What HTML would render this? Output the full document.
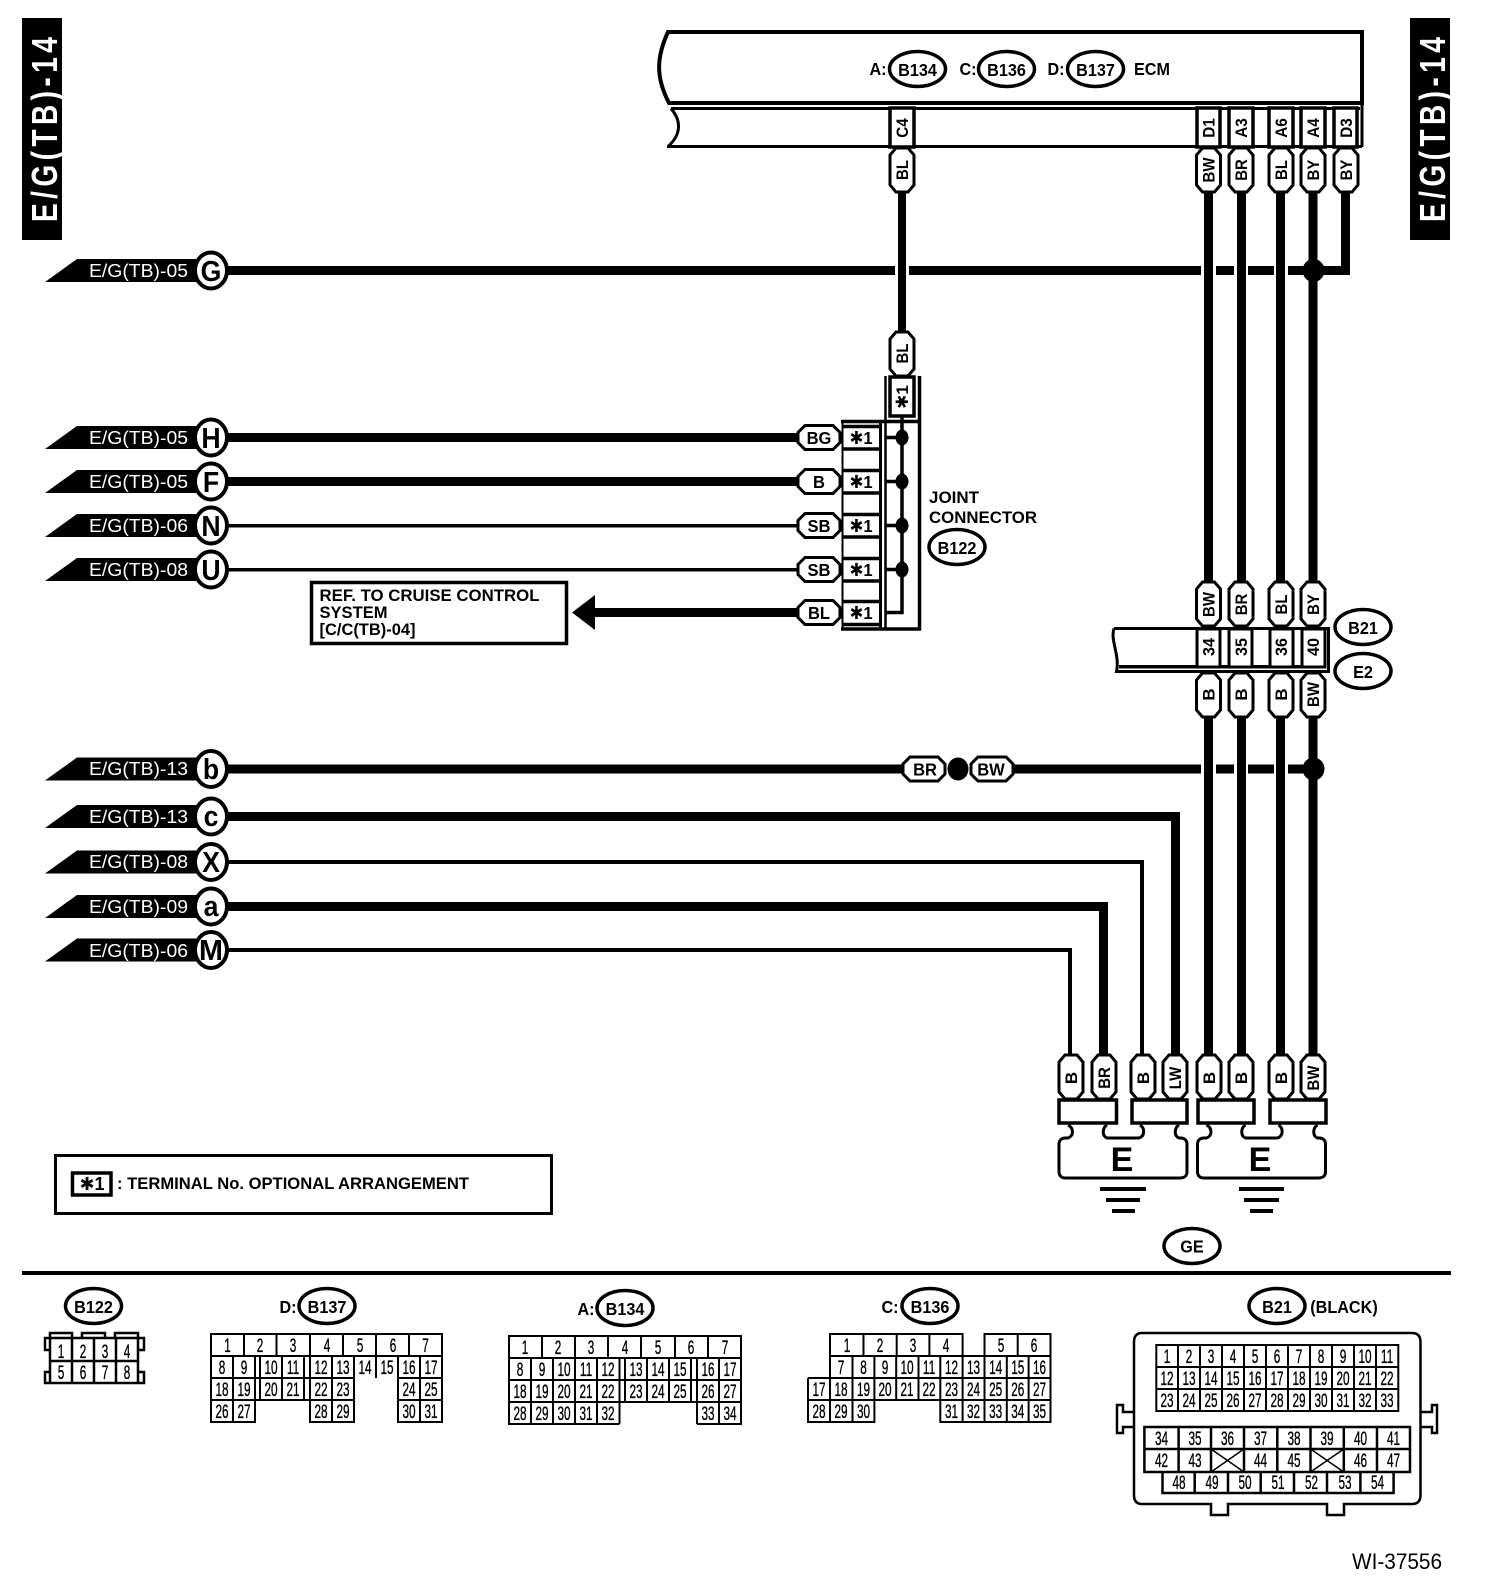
<!DOCTYPE html>
<html><head><meta charset="utf-8"><style>
html,body{margin:0;padding:0;background:#fff}
svg{display:block}
text{font-family:"Liberation Sans","DejaVu Sans",sans-serif;fill:#000}
.n text{font-size:19px;text-anchor:middle;stroke:#000;stroke-width:.35px;transform:scaleX(.62);transform-box:fill-box;transform-origin:center}
.e text{font-size:18px;font-weight:bold;text-anchor:middle;transform:scaleX(.9);transform-box:fill-box;transform-origin:center}
.v text{font-size:17px;font-weight:bold;text-anchor:middle}
.h text{font-size:18px;font-weight:bold;text-anchor:middle;transform:scaleX(.92);transform-box:fill-box;transform-origin:center}
.t text{font-size:18.5px;fill:#fff}
.c text{font-size:29px;font-weight:bold;text-anchor:middle;transform:scaleX(.92);transform-box:fill-box;transform-origin:center}
.b text{font-size:17px;font-weight:bold}
.l{fill:none;stroke:#000}
</style></head><body>
<svg xmlns="http://www.w3.org/2000/svg" width="1504" height="1596" viewBox="0 0 1504 1596">
<defs>
<path id="vp" d="M-6 0H6L12 7V37L6 44H-6L-12 37V7Z" fill="#fff" stroke="#000" stroke-width="3"/>
<path id="hp" d="M8 -12H36L43 -5V5L36 12H8L1 5V-5Z" fill="#fff" stroke="#000" stroke-width="3"/>
<path id="tg" d="M45 11.5L77 -11.5H200V11.5Z" fill="#000"/>
<ellipse id="ci" cx="211" cy="0" rx="16" ry="18" fill="#fff" stroke="#000" stroke-width="4"/>
<ellipse id="el" cx="0" cy="0" rx="28" ry="17.5" fill="#fff" stroke="#000" stroke-width="3.5"/>
</defs>
<rect width="1504" height="1596" fill="#fff"/>

<!-- side tabs -->
<rect x="22" y="18" width="40" height="222" fill="#000"/>
<rect x="1410" y="18" width="40" height="222" fill="#000"/>
<text transform="translate(57 222) rotate(-90) scale(.78 1)" font-size="36" font-weight="bold" textLength="237" style="fill:#fff">E/G(TB)-14</text>
<text transform="translate(1445 222) rotate(-90) scale(.78 1)" font-size="36" font-weight="bold" textLength="237" style="fill:#fff">E/G(TB)-14</text>

<!-- wires -->
<g fill="#000">
<rect x="226" y="266" width="669" height="9"/><rect x="909" y="266" width="292" height="9"/><rect x="1216" y="266" width="18" height="9"/><rect x="1248" y="266" width="26" height="9"/><rect x="1288" y="266" width="62" height="9"/>
<rect x="1341" y="190" width="9" height="85"/>
<rect x="898" y="190" width="8" height="144"/>
<rect x="1204" y="190" width="9" height="394"/><rect x="1237" y="190" width="9" height="394"/><rect x="1276" y="190" width="9" height="394"/><rect x="1308.5" y="190" width="9" height="394"/>
<rect x="1204" y="714" width="9" height="343"/><rect x="1237" y="714" width="9" height="343"/><rect x="1276" y="714" width="9" height="343"/><rect x="1308.5" y="714" width="9" height="343"/>
<ellipse cx="1313.5" cy="270.5" rx="11" ry="11.5"/>
<rect x="226" y="433" width="574" height="9"/><rect x="226" y="477" width="574" height="9"/>
<rect x="226" y="524" width="574" height="3.5"/><rect x="226" y="568" width="574" height="3.5"/>
<rect x="590" y="608" width="210" height="9"/>
<path d="M572 612.5L595 595V630Z"/>
<rect x="226" y="764.5" width="678" height="9"/><rect x="1012" y="764.5" width="189" height="9"/><rect x="1216" y="764.5" width="18" height="9"/><rect x="1248" y="764.5" width="26" height="9"/><rect x="1288" y="764.5" width="26" height="9"/>
<ellipse cx="1313.5" cy="769" rx="11" ry="11.5"/>
<ellipse cx="958" cy="769" rx="10.5" ry="11.5"/>
<path d="M226 812H1180V1057H1171V821H226Z"/>
<path d="M226 860H1144V1057H1140V864H226Z"/>
<path d="M226 902H1108V1057H1099V911H226Z"/>
<path d="M226 948H1072V1057H1068V952H226Z"/>
</g>

<!-- tags -->
<use href="#tg" y="270.5"/><use href="#tg" y="437.5"/><use href="#tg" y="481.5"/><use href="#tg" y="525.5"/><use href="#tg" y="569.5"/><use href="#tg" y="769"/><use href="#tg" y="816.5"/><use href="#tg" y="862"/><use href="#tg" y="906.5"/><use href="#tg" y="950"/>
<g class="t">
<text x="89" y="277" textLength="99" lengthAdjust="spacingAndGlyphs">E/G(TB)-05</text>
<text x="89" y="444" textLength="99" lengthAdjust="spacingAndGlyphs">E/G(TB)-05</text>
<text x="89" y="488" textLength="99" lengthAdjust="spacingAndGlyphs">E/G(TB)-05</text>
<text x="89" y="532" textLength="99" lengthAdjust="spacingAndGlyphs">E/G(TB)-06</text>
<text x="89" y="576" textLength="99" lengthAdjust="spacingAndGlyphs">E/G(TB)-08</text>
<text x="89" y="775" textLength="99" lengthAdjust="spacingAndGlyphs">E/G(TB)-13</text>
<text x="89" y="823" textLength="99" lengthAdjust="spacingAndGlyphs">E/G(TB)-13</text>
<text x="89" y="868" textLength="99" lengthAdjust="spacingAndGlyphs">E/G(TB)-08</text>
<text x="89" y="913" textLength="99" lengthAdjust="spacingAndGlyphs">E/G(TB)-09</text>
<text x="89" y="957" textLength="99" lengthAdjust="spacingAndGlyphs">E/G(TB)-06</text>
</g>
<use href="#ci" y="270.5"/><use href="#ci" y="437.5"/><use href="#ci" y="481.5"/><use href="#ci" y="525.5"/><use href="#ci" y="569.5"/><use href="#ci" y="769"/><use href="#ci" y="816.5"/><use href="#ci" y="862"/><use href="#ci" y="906.5"/><use href="#ci" y="950"/>
<g class="c">
<text x="211" y="281">G</text><text x="211" y="448">H</text><text x="211" y="492">F</text><text x="211" y="536">N</text><text x="211" y="580">U</text><text x="211" y="779">b</text><text x="211" y="826">c</text><text x="211" y="872">X</text><text x="211" y="916">a</text><text x="211" y="960" textLength="26" lengthAdjust="spacingAndGlyphs">M</text>
</g>

<!-- ECM -->
<path class="l" stroke-width="4" d="M668 32H1362V103H669C656 78 656 58 668 32Z"/>
<path class="l" stroke-width="3" d="M671 108.5H1360M1362 105V147M667 146.5H1362M671 108.5C681 120 682 134 668 146.5"/>
<g fill="#fff" stroke="#000" stroke-width="3.5">
<rect x="890" y="108" width="24" height="39"/><rect x="1197" y="108" width="23" height="39"/><rect x="1229" y="108" width="24" height="39"/><rect x="1269" y="108" width="24" height="39"/><rect x="1301" y="108" width="24" height="39"/><rect x="1334" y="108" width="23" height="39"/>
</g>
<g class="v">
<text transform="translate(908 128) rotate(-90) scale(.9 1)">C4</text>
<text transform="translate(1214.5 128) rotate(-90) scale(.9 1)">D1</text>
<text transform="translate(1247 128) rotate(-90) scale(.9 1)">A3</text>
<text transform="translate(1287 128) rotate(-90) scale(.9 1)">A6</text>
<text transform="translate(1319 128) rotate(-90) scale(.9 1)">A4</text>
<text transform="translate(1352 128) rotate(-90) scale(.9 1)">D3</text>
</g>
<use href="#vp" x="902" y="148"/><use href="#vp" x="1208.5" y="148"/><use href="#vp" x="1241" y="148"/><use href="#vp" x="1281" y="148"/><use href="#vp" x="1313" y="148"/><use href="#vp" x="1346" y="148"/>
<g class="v">
<text transform="translate(908 170) rotate(-90) scale(.88 1)">BL</text>
<text transform="translate(1214.5 170) rotate(-90) scale(.88 1)">BW</text>
<text transform="translate(1247 170) rotate(-90) scale(.88 1)">BR</text>
<text transform="translate(1287 170) rotate(-90) scale(.88 1)">BL</text>
<text transform="translate(1319 170) rotate(-90) scale(.88 1)">BY</text>
<text transform="translate(1352 170) rotate(-90) scale(.88 1)">BY</text>
</g>
<use href="#el" x="917.5" y="69"/><use href="#el" x="1006.5" y="69"/><use href="#el" x="1095.5" y="69"/>
<g class="e">
<text x="917.5" y="76">B134</text><text x="1006.5" y="76">B136</text><text x="1095.5" y="76">B137</text>
<text x="878" y="75">A:</text><text x="968" y="75">C:</text><text x="1056" y="75">D:</text><text x="1152" y="75">ECM</text>
</g>

<!-- joint connector -->
<use href="#vp" x="902" y="332"/>
<text transform="translate(908 353.5) rotate(-90) scale(.88 1)" font-size="17" font-weight="bold" text-anchor="middle">BL</text>
<path class="l" stroke-width="2.5" d="M885.5 376V628"/>
<path class="l" stroke-width="3.5" d="M919.5 376V630M841 421.5H921M841 629H921"/>
<path class="l" stroke-width="2" d="M842.5 423V628"/>
<path class="l" stroke-width="3" d="M880.5 423V628"/>
<rect x="890" y="377" width="24" height="39" fill="#fff" stroke="#000" stroke-width="3.5"/>
<text transform="translate(908 397) rotate(-90)" font-size="17" font-weight="bold" text-anchor="middle">✱1</text>
<path class="l" stroke-width="3.5" d="M902 417V612.5H885M885 437.5H902M885 481.5H902M885 525.5H902M885 569.5H902"/>
<g fill="#000"><ellipse cx="902" cy="437.5" rx="6.5" ry="8"/><ellipse cx="902" cy="481.5" rx="6.5" ry="8"/><ellipse cx="902" cy="525.5" rx="6.5" ry="8"/><ellipse cx="902" cy="569.5" rx="6.5" ry="8"/></g>
<path class="l" stroke-width="3.5" d="M843 426.5H880M843 449H880M843 470.5H880M843 493H880M843 514.5H880M843 537H880M843 558.5H880M843 581H880M843 601.5H880M843 624.5H880"/>
<use href="#hp" x="797" y="437.5"/><use href="#hp" x="797" y="481.5"/><use href="#hp" x="797" y="525.5"/><use href="#hp" x="797" y="569.5"/><use href="#hp" x="797" y="612.5"/>
<g class="h">
<text x="819" y="444">BG</text><text x="819" y="488">B</text><text x="819" y="532">SB</text><text x="819" y="576">SB</text><text x="819" y="619">BL</text>
<text x="861" y="444">✱1</text><text x="861" y="488">✱1</text><text x="861" y="532">✱1</text><text x="861" y="576">✱1</text><text x="861" y="619">✱1</text>
</g>
<text x="929" y="503" font-size="17" font-weight="bold" textLength="50" lengthAdjust="spacingAndGlyphs">JOINT</text>
<text x="929" y="523" font-size="17" font-weight="bold" textLength="108" lengthAdjust="spacingAndGlyphs">CONNECTOR</text>
<use href="#el" x="957" y="547"/>
<g class="e"><text x="957" y="554">B122</text></g>

<!-- ref box -->
<rect x="311.5" y="582.5" width="255" height="61" fill="#fff" stroke="#000" stroke-width="3.5"/>
<g class="b">
<text x="319.5" y="601" textLength="220" lengthAdjust="spacingAndGlyphs">REF. TO CRUISE CONTROL</text>
<text x="319.5" y="618" textLength="68" lengthAdjust="spacingAndGlyphs">SYSTEM</text>
<text x="319.5" y="635" textLength="96" lengthAdjust="spacingAndGlyphs">[C/C(TB)-04]</text>
</g>

<!-- B21 / E2 strip -->
<path class="l" stroke-width="3" d="M1114 628.5H1328.5V671.5H1116.5C1120 655 1110 640 1114 628.5"/>
<rect x="1119" y="665" width="206" height="3.5" fill="#000"/>
<g fill="#fff" stroke="#000" stroke-width="3">
<rect x="1197" y="629" width="23" height="38"/><rect x="1229" y="629" width="23" height="38"/><rect x="1270" y="629" width="23" height="38"/><rect x="1302" y="629" width="23" height="38"/>
</g>
<g class="v">
<text transform="translate(1214.5 647) rotate(-90) scale(.95 1)">34</text>
<text transform="translate(1247 647) rotate(-90) scale(.95 1)">35</text>
<text transform="translate(1287 647) rotate(-90) scale(.95 1)">36</text>
<text transform="translate(1319 647) rotate(-90) scale(.95 1)">40</text>
</g>
<use href="#vp" x="1208.5" y="582"/><use href="#vp" x="1241" y="582"/><use href="#vp" x="1281" y="582"/><use href="#vp" x="1313" y="582"/>
<use href="#vp" x="1208.5" y="673"/><use href="#vp" x="1241" y="673"/><use href="#vp" x="1281" y="673"/><use href="#vp" x="1313" y="673"/>
<g class="v">
<text transform="translate(1214.5 604.5) rotate(-90) scale(.88 1)">BW</text>
<text transform="translate(1247 604.5) rotate(-90) scale(.88 1)">BR</text>
<text transform="translate(1287 604.5) rotate(-90) scale(.88 1)">BL</text>
<text transform="translate(1319 604.5) rotate(-90) scale(.88 1)">BY</text>
<text transform="translate(1214.5 694.5) rotate(-90)">B</text>
<text transform="translate(1247 694.5) rotate(-90)">B</text>
<text transform="translate(1287 694.5) rotate(-90)">B</text>
<text transform="translate(1319 694.5) rotate(-90) scale(.88 1)">BW</text>
</g>
<use href="#el" x="1363" y="627"/><use href="#el" x="1363" y="671"/>
<g class="e"><text x="1363" y="634">B21</text><text x="1363" y="678">E2</text></g>

<!-- b row pills -->
<use href="#hp" x="902" y="769"/><use href="#hp" x="970" y="769"/>
<g class="h"><text x="925" y="775.5">BR</text><text x="991" y="775.5">BW</text></g>

<!-- bottom pills & ground -->
<use href="#vp" x="1071" y="1055"/><use href="#vp" x="1104" y="1055"/><use href="#vp" x="1143" y="1055"/><use href="#vp" x="1175" y="1055"/><use href="#vp" x="1209" y="1055"/><use href="#vp" x="1241" y="1055"/><use href="#vp" x="1281" y="1055"/><use href="#vp" x="1313" y="1055"/>
<g class="v">
<text transform="translate(1077 1078) rotate(-90)">B</text>
<text transform="translate(1110 1078) rotate(-90) scale(.88 1)">BR</text>
<text transform="translate(1149 1078) rotate(-90)">B</text>
<text transform="translate(1181 1078) rotate(-90) scale(.88 1)">LW</text>
<text transform="translate(1215 1078) rotate(-90)">B</text>
<text transform="translate(1247 1078) rotate(-90)">B</text>
<text transform="translate(1287 1078) rotate(-90)">B</text>
<text transform="translate(1319 1078) rotate(-90) scale(.88 1)">BW</text>
</g>
<g fill="#fff" stroke="#000" stroke-width="3.5">
<rect x="1059" y="1100" width="57.5" height="23"/><rect x="1132" y="1100" width="55" height="23"/><rect x="1198" y="1100" width="56" height="23"/><rect x="1270" y="1100" width="56" height="23"/>
</g>
<path class="l" stroke-width="3" d="M1068 1125C1074 1128 1074 1136 1068 1138H1065C1061 1138 1059 1141 1059 1144V1172C1059 1176 1062 1178 1065 1178H1180C1184 1178 1187 1176 1187 1172V1144C1187 1141 1185 1138 1181 1138H1179C1174 1136 1174 1128 1179 1125M1107 1125C1102 1128 1102 1136 1107 1138H1139C1145 1136 1145 1128 1140 1125"/>
<path class="l" stroke-width="3" d="M1206.5 1125C1212.5 1128 1212.5 1136 1206.5 1138H1203.5C1199.5 1138 1197.5 1141 1197.5 1144V1172C1197.5 1176 1200.5 1178 1203.5 1178H1318.5C1322.5 1178 1325.5 1176 1325.5 1172V1144C1325.5 1141 1323.5 1138 1319.5 1138H1317.5C1312.5 1136 1312.5 1128 1317.5 1125M1245.5 1125C1240.5 1128 1240.5 1136 1245.5 1138H1277.5C1283.5 1136 1283.5 1128 1278.5 1125"/>
<text x="1122" y="1171" font-size="34" font-weight="bold" text-anchor="middle">E</text>
<text x="1260" y="1171" font-size="34" font-weight="bold" text-anchor="middle">E</text>
<g fill="#000">
<rect x="1100" y="1187" width="46" height="4"/><rect x="1106" y="1198" width="34" height="4"/><rect x="1112" y="1209" width="23" height="4"/>
<rect x="1239" y="1187" width="45" height="4"/><rect x="1244" y="1198" width="35" height="4"/><rect x="1250" y="1209" width="23" height="4"/>
</g>
<use href="#el" x="1192" y="1246"/>
<g class="e"><text x="1192" y="1252.5">GE</text></g>

<!-- legend -->
<rect x="55.5" y="1155.5" width="496" height="58" fill="none" stroke="#000" stroke-width="3"/>
<rect x="72.5" y="1173" width="38.5" height="22" fill="none" stroke="#000" stroke-width="3.5"/>
<text x="92" y="1190" font-size="18" font-weight="bold" text-anchor="middle">✱1</text>
<g class="b"><text x="117" y="1189" textLength="352" lengthAdjust="spacingAndGlyphs">: TERMINAL No. OPTIONAL ARRANGEMENT</text></g>

<rect x="22" y="1271" width="1429" height="4" fill="#000"/>

<!-- connector headers -->
<use href="#el" x="93.5" y="1306"/><use href="#el" x="327" y="1306"/><use href="#el" x="625" y="1308"/><use href="#el" x="930" y="1306"/><use href="#el" x="1277" y="1306"/>
<g class="e">
<text x="93.5" y="1313">B122</text><text x="327" y="1313">B137</text><text x="625" y="1315">B134</text><text x="930" y="1313">B136</text><text x="1277" y="1313">B21</text>
<text x="288" y="1313">D:</text><text x="586" y="1315">A:</text><text x="890" y="1313">C:</text><text x="1344" y="1313">(BLACK)</text>
</g>

<!-- B122 -->
<path class="l" stroke-width="2.5" d="M50 1338H138V1383H50ZM50 1361H138M72 1338V1383M94 1338V1383M116 1338V1383M50 1338V1333H72V1338M82 1338V1333H105V1338M115 1338V1333H138V1338M50 1338H45V1350H50M50 1372H45V1383H50M138 1338H144V1350H138M138 1372H144V1383H138"/>
<g class="n">
<text x="61" y="1358">1</text><text x="83" y="1358">2</text><text x="105" y="1358">3</text><text x="127" y="1358">4</text>
<text x="61" y="1379">5</text><text x="83" y="1379">6</text><text x="105" y="1379">7</text><text x="127" y="1379">8</text>
</g>

<!-- B137 -->
<path class="l" stroke-width="2" d="M211 1334H442V1356H211ZM244 1334V1356M276.5 1334V1356M310 1334V1356M343 1334V1356M376 1334V1356M409 1334V1356M211 1356V1422H255V1400H211M211 1378H354M398 1378H442M442 1356V1422H398V1356M211 1356H442M233 1356V1422M255 1356V1400M260 1356V1400M282 1356V1400M304 1356V1400M310 1356V1422H354V1356M310 1400H354M332 1356V1422M376 1356V1378M398 1356V1378M420 1356V1422M398 1400H442M255 1400H310"/>
<g class="n">
<text x="227.5" y="1352">1</text><text x="260" y="1352">2</text><text x="293" y="1352">3</text><text x="327" y="1352">4</text><text x="360" y="1352">5</text><text x="393" y="1352">6</text><text x="425.5" y="1352">7</text>
<text x="222" y="1374">8</text><text x="244" y="1374">9</text><text x="271" y="1374">10</text><text x="293" y="1374">11</text><text x="321" y="1374">12</text><text x="343" y="1374">13</text><text x="365" y="1374">14</text><text x="387" y="1374">15</text><text x="409" y="1374">16</text><text x="431" y="1374">17</text>
<text x="222" y="1396">18</text><text x="244" y="1396">19</text><text x="271" y="1396">20</text><text x="293" y="1396">21</text><text x="321" y="1396">22</text><text x="343" y="1396">23</text><text x="409" y="1396">24</text><text x="431" y="1396">25</text>
<text x="222" y="1418">26</text><text x="244" y="1418">27</text><text x="321" y="1418">28</text><text x="343" y="1418">29</text><text x="409" y="1418">30</text><text x="431" y="1418">31</text>
</g>

<!-- B134 -->
<path class="l" stroke-width="2" d="M509 1336H741V1402H509ZM509 1358H741M509 1380H741M542 1336V1358M575 1336V1358M608 1336V1358M641 1336V1358M675 1336V1358M708 1336V1358M531 1358V1424M553 1358V1424M575 1358V1424M597 1358V1424M619.5 1358V1424M625 1358V1402M647 1358V1402M669 1358V1402M691 1358V1402M697 1358V1424M719 1358V1424M509 1402V1424H619.5M697 1424H741V1402"/>
<g class="n">
<text x="525" y="1354">1</text><text x="558" y="1354">2</text><text x="591" y="1354">3</text><text x="625" y="1354">4</text><text x="658" y="1354">5</text><text x="691" y="1354">6</text><text x="725" y="1354">7</text>
<text x="520" y="1376">8</text><text x="542" y="1376">9</text><text x="564" y="1376">10</text><text x="586" y="1376">11</text><text x="608" y="1376">12</text><text x="636" y="1376">13</text><text x="658" y="1376">14</text><text x="680" y="1376">15</text><text x="708" y="1376">16</text><text x="730" y="1376">17</text>
<text x="520" y="1398">18</text><text x="542" y="1398">19</text><text x="564" y="1398">20</text><text x="586" y="1398">21</text><text x="608" y="1398">22</text><text x="636" y="1398">23</text><text x="658" y="1398">24</text><text x="680" y="1398">25</text><text x="708" y="1398">26</text><text x="730" y="1398">27</text>
<text x="520" y="1420">28</text><text x="542" y="1420">29</text><text x="564" y="1420">30</text><text x="586" y="1420">31</text><text x="608" y="1420">32</text><text x="708" y="1420">33</text><text x="730" y="1420">34</text>
</g>

<!-- B136 -->
<path class="l" stroke-width="2" d="M830 1356V1334H962.6V1356M984.5 1356V1334H1050.5V1422H940.3V1400M830 1356H1050.5M808 1378H1050.5M808 1378V1422H874.4V1400M808 1400H1050.5M863.5 1334V1356M896.7 1334V1356M929.4 1334V1356M1017.7 1334V1356M830 1356V1422M852.5 1356V1422M874.4 1356V1400M896.2 1356V1400M918.5 1356V1400M940.3 1356V1400M962.6 1356V1422M984.5 1356V1422M1006.8 1356V1422M1028.6 1356V1422"/>
<g class="n">
<text x="847" y="1352">1</text><text x="880" y="1352">2</text><text x="913" y="1352">3</text><text x="946" y="1352">4</text><text x="1001" y="1352">5</text><text x="1034" y="1352">6</text>
<text x="841" y="1374">7</text><text x="863.5" y="1374">8</text><text x="885" y="1374">9</text><text x="907" y="1374">10</text><text x="929" y="1374">11</text><text x="951.5" y="1374">12</text><text x="973.5" y="1374">13</text><text x="995.6" y="1374">14</text><text x="1017.7" y="1374">15</text><text x="1039.5" y="1374">16</text>
<text x="819" y="1396">17</text><text x="841" y="1396">18</text><text x="863.5" y="1396">19</text><text x="885" y="1396">20</text><text x="907" y="1396">21</text><text x="929" y="1396">22</text><text x="951.5" y="1396">23</text><text x="973.5" y="1396">24</text><text x="995.6" y="1396">25</text><text x="1017.7" y="1396">26</text><text x="1039.5" y="1396">27</text>
<text x="819" y="1418">28</text><text x="841" y="1418">29</text><text x="863.5" y="1418">30</text><text x="951.5" y="1418">31</text><text x="973.5" y="1418">32</text><text x="995.6" y="1418">33</text><text x="1017.7" y="1418">34</text><text x="1039.5" y="1418">35</text>
</g>

<!-- B21 housing -->
<path class="l" stroke-width="2.5" d="M1142 1333H1412Q1420.5 1333 1420.5 1342V1495Q1420.5 1504 1412 1504H1344V1515H1327V1504H1228V1515H1211V1504H1142Q1134 1504 1134 1495V1342Q1134 1333 1142 1333ZM1134 1412H1123V1405H1117V1433H1123V1427H1134M1421 1412H1432V1405H1437V1433H1432V1427H1421"/>
<path class="l" stroke-width="2" d="M1156.3 1345H1398.3V1411H1156.3ZM1156.3 1367H1398.3M1156.3 1389H1398.3M1178 1345V1411M1200 1345V1411M1222 1345V1411M1244 1345V1411M1266 1345V1411M1288 1345V1411M1310 1345V1411M1332 1345V1411M1354 1345V1411M1376 1345V1411"/>
<path class="l" stroke-width="2.5" d="M1144.4 1427H1410V1472H1144.4ZM1144.4 1449H1410M1178.6 1427V1472M1211 1427V1472M1244 1427V1472M1277.3 1427V1472M1310.5 1427V1472M1343.8 1427V1472M1377 1427V1472M1162.5 1472V1493H1393.6V1472M1194.7 1472V1493M1228 1472V1493M1260.7 1472V1493M1294 1472V1493M1327 1472V1493M1360.4 1472V1493"/>
<path class="l" stroke-width="1.5" d="M1211 1449L1244 1472M1244 1449L1211 1472M1310.5 1449L1343.8 1472M1343.8 1449L1310.5 1472"/>
<g class="n">
<text x="1167" y="1363">1</text><text x="1189" y="1363">2</text><text x="1211" y="1363">3</text><text x="1233" y="1363">4</text><text x="1255" y="1363">5</text><text x="1277" y="1363">6</text><text x="1299" y="1363">7</text><text x="1321" y="1363">8</text><text x="1343" y="1363">9</text><text x="1365" y="1363">10</text><text x="1387" y="1363">11</text>
<text x="1167" y="1385">12</text><text x="1189" y="1385">13</text><text x="1211" y="1385">14</text><text x="1233" y="1385">15</text><text x="1255" y="1385">16</text><text x="1277" y="1385">17</text><text x="1299" y="1385">18</text><text x="1321" y="1385">19</text><text x="1343" y="1385">20</text><text x="1365" y="1385">21</text><text x="1387" y="1385">22</text>
<text x="1167" y="1407">23</text><text x="1189" y="1407">24</text><text x="1211" y="1407">25</text><text x="1233" y="1407">26</text><text x="1255" y="1407">27</text><text x="1277" y="1407">28</text><text x="1299" y="1407">29</text><text x="1321" y="1407">30</text><text x="1343" y="1407">31</text><text x="1365" y="1407">32</text><text x="1387" y="1407">33</text>
<text x="1161.5" y="1445">34</text><text x="1195" y="1445">35</text><text x="1227.5" y="1445">36</text><text x="1260.5" y="1445">37</text><text x="1294" y="1445">38</text><text x="1327" y="1445">39</text><text x="1360.5" y="1445">40</text><text x="1393.5" y="1445">41</text>
<text x="1161.5" y="1467">42</text><text x="1195" y="1467">43</text><text x="1260.5" y="1467">44</text><text x="1294" y="1467">45</text><text x="1360.5" y="1467">46</text><text x="1393.5" y="1467">47</text>
<text x="1179" y="1489">48</text><text x="1212" y="1489">49</text><text x="1245" y="1489">50</text><text x="1278" y="1489">51</text><text x="1311.5" y="1489">52</text><text x="1345" y="1489">53</text><text x="1377.5" y="1489">54</text>
</g>

<text x="1352" y="1569" font-size="22" textLength="90" lengthAdjust="spacingAndGlyphs">WI-37556</text>
</svg>
</body></html>
